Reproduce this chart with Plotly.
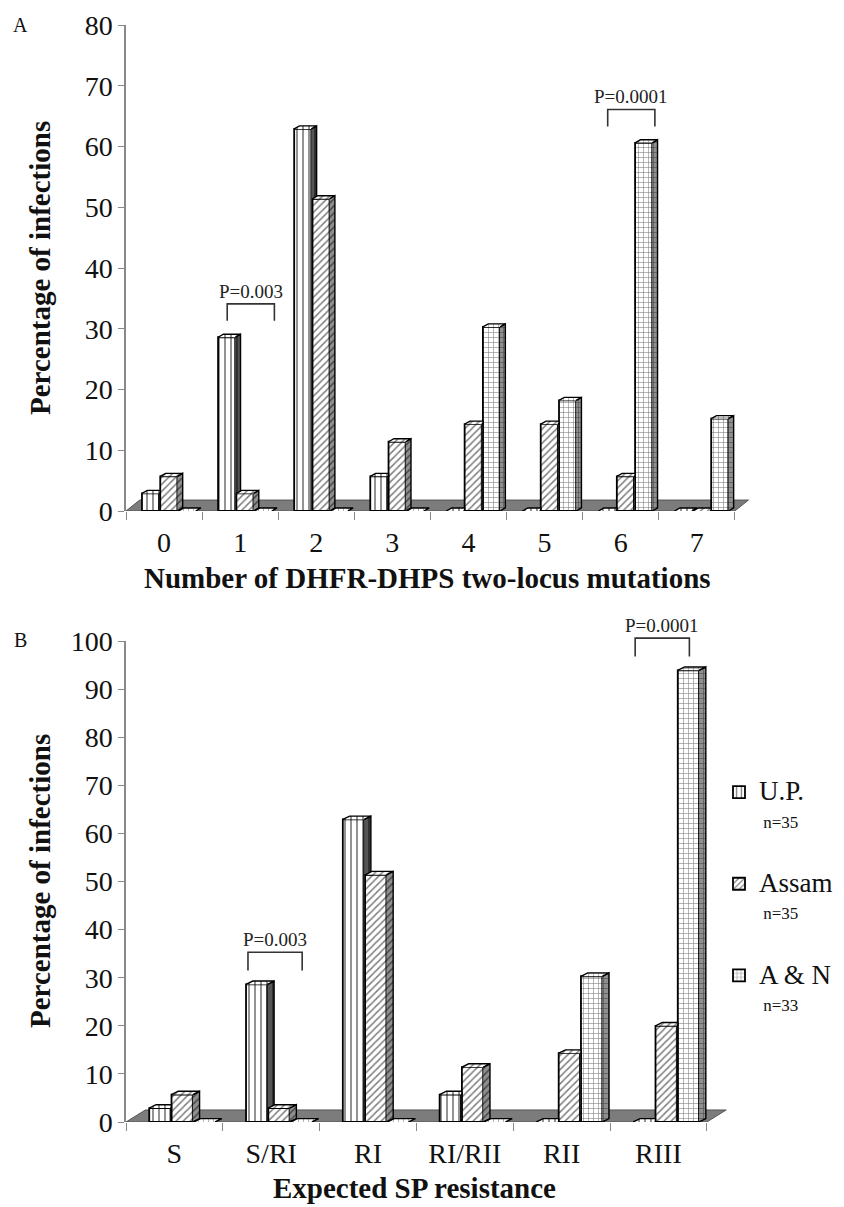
import plotly.graph_objects as go

# ---------------- data ----------------
series_names = ["U.P.", "Assam", "A & N"]
series_n = ["n=35", "n=35", "n=33"]

cats_A = ["0", "1", "2", "3", "4", "5", "6", "7"]
up_A = [2.9, 28.6, 62.9, 5.7, 0, 0, 0, 0]
assam_A = [5.7, 2.9, 51.4, 11.4, 14.3, 14.3, 5.7, 0]
an_A = [0, 0, 0, 0, 30.3, 18.2, 60.6, 15.2]

cats_B = ["S", "S/RI", "RI", "RI/RII", "RII", "RIII"]
up_B = [2.9, 28.6, 62.9, 5.7, 0, 0]
assam_B = [5.7, 2.9, 51.4, 11.4, 14.3, 20.0]
an_B = [0, 0, 0, 0, 30.3, 93.9]

# significance brackets: (category label, text)
pvals_A = [("1", "P=0.003"), ("6", "P=0.0001")]
pvals_B = [("S/RI", "P=0.003"), ("RIII", "P=0.0001")]

# ---------------- style ----------------
W, H = 844, 1207
FONT = "Liberation Serif"
patterns = [dict(shape="|", size=6, solidity=0.28),
            dict(shape="/", size=5, solidity=0.3),
            dict(shape="+", size=5, solidity=0.22)]
side_bgs = ["#555555", "#8f8f8f", "#8f8f8f"]


def px_x(p):
    return p / W


def px_y(p):
    return 1 - p / H


panels = [
    dict(cats=cats_A, series=[up_A, assam_A, an_A], pvals=pvals_A,
         xdom=(126, 750), ydom=(511, 25), xr=(-0.5, 7.7), yr=(0, 80),
         offs=[-0.29, -0.05, 0.19], w=0.225, dx=0.07, dy=0.5,
         fdx=0.18, fdy=1.8, br=(-0.17, 0.45), leg=2.8, ax="", legend=False,
         title="Number of DHFR-DHPS two-locus mutations", title_y=578, title_x=427,
         letter="A", letter_y=25, ytitle_y=268, standoff=12),
    dict(cats=cats_B, series=[up_B, assam_B, an_B], pvals=pvals_B,
         xdom=(126, 731), ydom=(1122, 641), xr=(-0.5, 5.75), yr=(0, 100),
         offs=[-0.26, -0.03, 0.20], w=0.22, dx=0.07, dy=0.7,
         fdx=0.2, fdy=2.5, br=(-0.24, 0.32), leg=3.8, ax="2", legend=True,
         title="Expected SP resistance", title_y=1188, title_x=414,
         letter="B", letter_y=640, ytitle_y=881, standoff=12),
]

fig = go.Figure()
shapes = []
annotations = []


def side_poly(xr, v, xn, h, dx, dy):
    full = [(xr, 0), (xr + dx, dy), (xr + dx, v + dy), (xr, v)]
    if h is None or xn >= xr + dx:
        return full
    s = dy * (xn - xr) / dx
    if h <= s:
        return full
    if h >= v + s:
        return [(xr, 0), (xn, s), (xn, v + s), (xr, v)]
    pts = [(xr, 0), (xn, s), (xn, h)]
    if h < dy:
        pts += [(xr + dx * h / dy, h), (xr + dx, dy)]
    else:
        pts += [(xr + dx, h)]
    pts += [(xr + dx, v + dy), (xr, v)]
    return pts


def top_poly(xl, xr, v, xn, h, dx, dy):
    full = [(xl, v), (xl + dx, v + dy), (xr + dx, v + dy), (xr, v)]
    if h is None or h <= v + dy / 2 or xn >= xr + dx:
        return full
    s = dy * (xn - xr) / dx
    return [(xl, v), (xl + dx, v + dy), (xn, v + dy), (xn, v + s), (xr, v)]


for P in panels:
    ax = P["ax"]
    xa, ya = "x" + ax, "y" + ax
    n = len(P["cats"])
    idx = list(range(n))
    yd0, yd1 = px_y(P["ydom"][0]), px_y(P["ydom"][1])

    def to_paper_y(val):
        return yd0 + (val - P["yr"][0]) / (P["yr"][1] - P["yr"][0]) * (yd1 - yd0)

    # bars (front faces)
    for k, vals in enumerate(P["series"]):
        fig.add_trace(go.Bar(
            x=idx, y=vals, width=P["w"], offset=P["offs"][k],
            name="<span style='font-size:27px'>" + series_names[k] + "</span><br>"
                 + "<span style='font-size:17px'>&nbsp;" + series_n[k] + "</span>",
            legendgroup=series_names[k], showlegend=P["legend"],
            marker=dict(color="white", line=dict(color="black", width=1.8),
                        pattern=dict(fgcolor="black", bgcolor="white", **patterns[k])),
            xaxis=xa, yaxis=ya, hoverinfo="skip"))
    # 3D side and top faces
    for k, vals in enumerate(P["series"]):
        sx, sy, tx, ty = [], [], [], []
        for i, v in enumerate(vals):
            xl = i + P["offs"][k]
            xr = xl + P["w"]
            if k + 1 < len(P["series"]):
                xn = i + P["offs"][k + 1]
                h = P["series"][k + 1][i]
            else:
                xn, h = None, None
            if v > 0:
                for (a, b) in side_poly(xr, v, xn, h, P["dx"], P["dy"]):
                    sx.append(a); sy.append(b)
                sx.append(None); sy.append(None)
            for (a, b) in top_poly(xl, xr, v, xn, h, P["dx"], P["dy"]):
                tx.append(a); ty.append(b)
            tx.append(None); ty.append(None)
        fig.add_trace(go.Scatter(
            x=sx, y=sy, mode="lines", fill="toself", fillcolor=side_bgs[k],
            fillpattern=dict(fgcolor="black", bgcolor=side_bgs[k], **patterns[k]),
            line=dict(color="black", width=1.4), showlegend=False,
            hoverinfo="skip", xaxis=xa, yaxis=ya))
        fig.add_trace(go.Scatter(
            x=tx, y=ty, mode="lines", fill="toself", fillcolor="white",
            fillpattern=dict(fgcolor="black", bgcolor="white", **patterns[k]),
            line=dict(color="black", width=1.4), showlegend=False,
            hoverinfo="skip", xaxis=xa, yaxis=ya))
    # floor
    x0, x1 = -0.5, n - 0.5
    shapes.append(dict(
        type="path", xref=xa, yref=ya, layer="below",
        path=f"M{x0},0 L{x1},0 L{x1 + P['fdx']},{P['fdy']} L{x0 + P['fdx']},{P['fdy']} Z",
        fillcolor="#7c7c7c", line=dict(color="#555555", width=1)))
    # significance brackets (y in paper units so they may rise above the plot top)
    for cat, txt in P["pvals"]:
        i = P["cats"].index(cat)
        top_val = max(s[i] for s in P["series"])
        yb = to_paper_y(top_val + P["dy"] + 2.2)
        yt = to_paper_y(top_val + P["dy"] + 2.2 + P["leg"])
        xa0 = i + P["br"][0]
        xa1 = i + P["br"][1]
        shapes.append(dict(type="path", xref=xa, yref="paper",
                           path=f"M{xa0},{yb} L{xa0},{yt} L{xa1},{yt} L{xa1},{yb}",
                           line=dict(color="#333333", width=1.6)))
        annotations.append(dict(x=(xa0 + xa1) / 2, y=yt, xref=xa, yref="paper",
                                text=txt, showarrow=False, xanchor="center",
                                yanchor="bottom", yshift=0,
                                font=dict(family=FONT, size=19, color="#222")))
    # titles
    annotations.append(dict(x=px_x(P["title_x"]), y=px_y(P["title_y"]), xref="paper", yref="paper",
                            text="<b>" + P["title"] + "</b>", showarrow=False,
                            xanchor="center", yanchor="middle",
                            font=dict(family=FONT, size=29, color="#111")))
    annotations.append(dict(x=px_x(40), y=px_y(P["ytitle_y"]), xref="paper", yref="paper",
                            text="<b>Percentage of infections</b>", textangle=-90, showarrow=False,
                            xanchor="center", yanchor="middle",
                            font=dict(family=FONT, size=29, color="#111")))
    annotations.append(dict(x=px_x(20), y=px_y(P["letter_y"]), xref="paper", yref="paper",
                            text=P["letter"], showarrow=False, xanchor="center", yanchor="middle",
                            font=dict(family=FONT, size=20, color="#111")))

    xaxis = dict(domain=[px_x(P["xdom"][0]), px_x(P["xdom"][1])], range=list(P["xr"]),
                 anchor=ya, tickmode="array", tickvals=idx, ticktext=P["cats"],
                 ticks="", showline=False, showgrid=False, zeroline=False,
                 automargin=False, ticklabelstandoff=P["standoff"],
                 tickfont=dict(family=FONT, size=28, color="#111"),
                 minor=dict(tickmode="array", tickvals=[i - 0.5 for i in range(n + 1)],
                            ticks="outside", ticklen=8, tickwidth=1.3, tickcolor="#888",
                            showgrid=False))
    yaxis = dict(domain=[yd0, yd1], range=list(P["yr"]), automargin=False,
                 anchor=xa, dtick=10, tick0=0, ticks="outside", ticklen=6, tickwidth=1.3,
                 tickcolor="#888", showline=True, linecolor="#888", linewidth=1.5,
                 showgrid=False, zeroline=False,
                 tickfont=dict(family=FONT, size=28, color="#111"))
    fig.update_layout(**{"xaxis" + ax: xaxis, "yaxis" + ax: yaxis})

fig.update_layout(
    width=W, height=H, margin=dict(l=0, r=0, t=0, b=0, autoexpand=False),
    font=dict(family=FONT, color="#111"),
    paper_bgcolor="white", plot_bgcolor="white", barmode="overlay",
    shapes=shapes, annotations=annotations,
    legend=dict(x=px_x(719), y=px_y(772), xanchor="left", yanchor="top",
                font=dict(family=FONT, size=21, color="#111"),
                traceorder="grouped", tracegroupgap=34, valign="top",
                bgcolor="rgba(0,0,0,0)"),
)

fig.write_html("out.html")
